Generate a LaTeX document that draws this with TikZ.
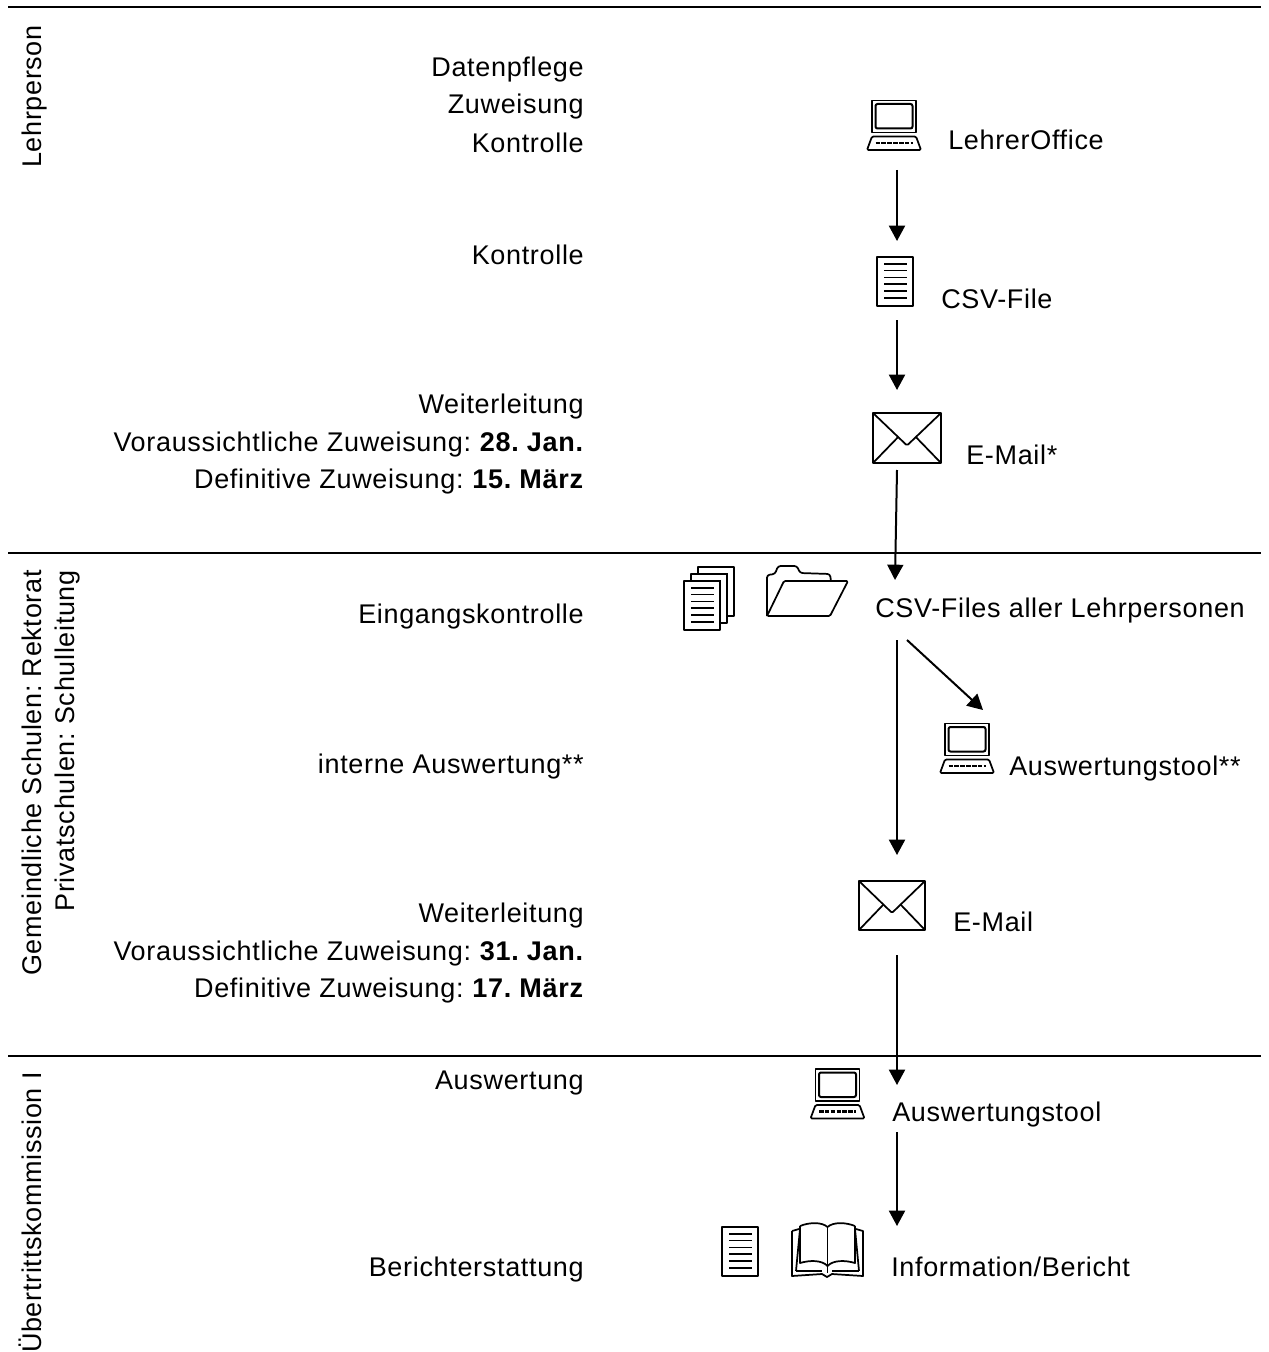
\documentclass[tikz,border=0pt]{standalone}
\usepackage{fontspec}
\setmainfont[LetterSpace=2.5]{Liberation Sans}
\frenchspacing
\usetikzlibrary{arrows.meta}
\tikzset{
  every node/.style={font=\fontsize{20.25pt}{24pt}\selectfont,inner sep=0pt},
  rtext/.style={anchor=base east},
  ltext/.style={anchor=base west},
  vtext/.style={anchor=base east,rotate=90},
  rule/.style={line width=1.5pt,black},
  flow/.style={line width=1.5pt,-{Triangle[length=11.5pt,width=12pt]}},
  ic/.style={line width=1.3pt,line join=round},
  pics/computer/.style={code={
    \draw[ic] (0,0) rectangle (44,32);
    \draw[line width=1.5pt,rounded corners=1.5pt] (3.5,3.5) rectangle (40.5,28);
    \draw[ic,rounded corners=1pt] (0,36) -- (44,36) -- (49,49.5) -- (-5,49.5) -- cycle;
    \draw[line width=1.6pt,dash pattern=on 3.4pt off 1pt] (3.5,42.5) -- (40.5,42.5);
  }},
  pics/textdoc/.style={code={
    \draw[ic,fill=white] (0,0) rectangle (36,49);
    \foreach \yy in {7,13.5,20.5,27,34,41}{\draw[line width=1.2pt] (7,\yy) -- (30,\yy);}
  }},
  pics/envelope/.style args={#1x#2}{code={
    \draw[ic] (0,0) rectangle (#1,#2);
    \draw[ic,rounded corners=1pt] (0,0) -- ({#1/2},{#2*0.65}) -- (#1,0);
    \draw[ic] (0,#2) -- ({#1*0.37},{#2*0.48});
    \draw[ic] (#1,#2) -- ({#1*0.63},{#2*0.48});
  }},
}
\begin{document}
\begin{tikzpicture}[x=0.75pt,y=-0.75pt]
\useasboundingbox (0,0) rectangle (1269,1352);
% rules
\coordinate (r1a) at (8,7); \coordinate (r1b) at (1261,7);
\coordinate (r2a) at (8,553); \coordinate (r2b) at (1261,553);
\coordinate (r3a) at (8,1056); \coordinate (r3b) at (1261,1056);
\draw[rule] (r1a) -- (r1b);
\draw[rule] (r2a) -- (r2b);
\draw[rule] (r3a) -- (r3b);
% rotated labels
\node[vtext] (l1) at (41,25) {Lehrperson};
\node[vtext] (l2) at (41,570) {Gemeindliche Schulen: Rektorat};
\node[vtext] (l3) at (74,570) {Privatschulen: Schulleitung};
\node[vtext] (l4) at (41,1072) {Übertrittskommission I};
% left column
\node[rtext] (t1) at (584,77) {Datenpflege};
\node[rtext] (t2) at (584,114) {Zuweisung};
\node[rtext] (t3) at (584,152) {Kontrolle};
\node[rtext] (t4) at (584,264) {Kontrolle};
\node[rtext] (t5) at (584,413) {Weiterleitung};
\node[rtext] (t6) at (584,451) {Voraussichtliche Zuweisung: \textbf{28. Jan.}};
\node[rtext] (t7) at (584,488) {Definitive Zuweisung: \textbf{15. März}};
\node[rtext] (t8) at (584,623) {Eingangskontrolle};
\node[rtext] (t9) at (584,773) {interne Auswertung**};
\node[rtext] (t10) at (584,922) {Weiterleitung};
\node[rtext] (t11) at (584,960) {Voraussichtliche Zuweisung: \textbf{31. Jan.}};
\node[rtext] (t12) at (584,997) {Definitive Zuweisung: \textbf{17. März}};
\node[rtext] (t13) at (584,1089) {Auswertung};
\node[rtext] (t14) at (584,1276) {Berichterstattung};
% right column
\node[ltext] (a1) at (948,150) {LehrerOffice};
\node[ltext] (a2) at (941,308) {CSV-File};
\node[ltext] (a3) at (966,464) {E-Mail*};
\node[ltext] (a4) at (875,617) {CSV-Files aller Lehrpersonen};
\node[ltext] (a5) at (1009,775) {Auswertungstool**};
\node[ltext] (a6) at (953,931) {E-Mail};
\node[ltext] (a7) at (892,1121) {Auswertungstool};
\node[ltext] (a8) at (891,1276) {Information/Bericht};
% icons
\pic at (872,100.5) {computer};
\pic at (945,723.5) {computer};
\pic at (815.5,1069) {computer};
\pic at (877,257) {textdoc};
\pic at (722,1227) {textdoc};
\pic at (873,413) {envelope=68x50};
\pic at (859,881) {envelope=66x49};
% stack of pages
\pic at (698,567) {textdoc};
\pic at (691,574) {textdoc};
\pic at (684,581) {textdoc};
% folder
\draw[ic,rounded corners=2pt] (767,616) -- (767,575) -- (775,574) -- (778,566) -- (797,566) -- (800,573) -- (830,574) -- (831,581);
\draw[ic,rounded corners=1pt] (767,616) -- (784,581) -- (848,581) -- (830,616) -- cycle;
% book
\draw[ic] (792,1231) -- (792,1276) -- (822,1274) to[out=0,in=180] (827,1277) to[out=0,in=180] (832,1274) -- (863,1276) -- (863,1231) -- (856,1229);
\draw[ic] (792,1231) -- (799,1229);
\draw[ic] (796,1271) -- (800,1229) (859,1271) -- (855,1229);
\draw[ic] (796,1271) -- (822,1271) (832,1271) -- (859,1271);
\draw[ic] (800,1226) .. controls (810,1222) and (822,1222) .. (827.5,1227) .. controls (833,1222) and (845,1222) .. (855,1226);
\draw[ic] (800,1226) -- (800,1263) .. controls (810,1260) and (822,1260) .. (827.5,1266) .. controls (833,1260) and (845,1260) .. (855,1263) -- (855,1226);
\draw[ic] (827.5,1227) -- (827.5,1273);
% connectors
\coordinate (c1) at (897,170); \coordinate (c2) at (897,241);
\coordinate (c3) at (897,320); \coordinate (c4) at (897,390);
\coordinate (c5) at (897,470); \coordinate (c6) at (895,580);
\coordinate (c7) at (897,640); \coordinate (c8) at (897,855);
\coordinate (c9) at (907,640); \coordinate (c10) at (983,710);
\coordinate (c11) at (897,955); \coordinate (c12) at (897,1085);
\coordinate (c13) at (897,1132); \coordinate (c14) at (897,1226);
\draw[flow] (c1) -- (c2);
\draw[flow] (c3) -- (c4);
\draw[flow] (c5) -- (c6);
\draw[flow] (c7) -- (c8);
\draw[flow] (c9) -- (c10);
\draw[flow] (c11) -- (c12);
\draw[flow] (c13) -- (c14);
\end{tikzpicture}
\end{document}
